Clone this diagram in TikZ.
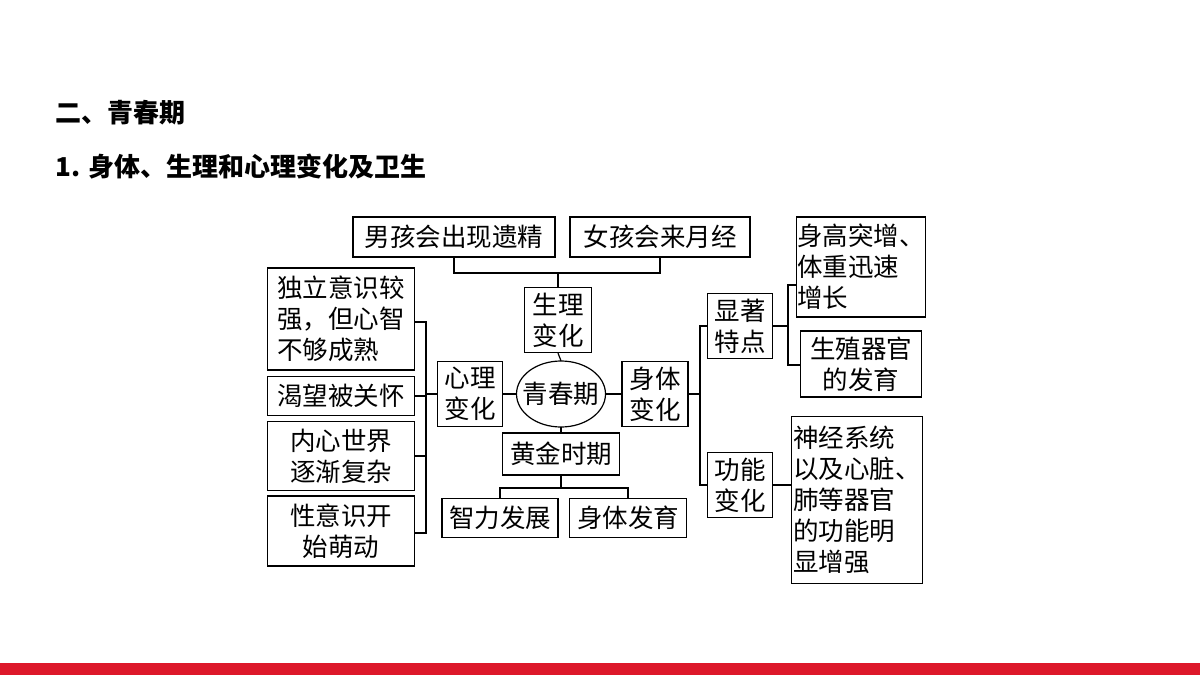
\documentclass[tikz,border=0pt]{standalone}
\usepackage{fontspec}
\setmainfont{Noto Sans CJK SC}
\usetikzlibrary{positioning}
\definecolor{barred}{RGB}{221,24,42}
\tikzset{
  box/.style={draw, line width=1.2pt, inner sep=1.5pt, align=center,
    font=\fontsize{25.5}{31}\selectfont},
  link/.style={line width=1.2pt}
}
\begin{document}
\begin{tikzpicture}[x=1pt,y=-1pt]
    \useasboundingbox (0,0) rectangle (1200,675);
    \fill [barred] (0,663) rectangle (1200,675);
    \node [anchor=base west, font=\fontsize{26}{30}\selectfont\bfseries] (title) at (52,122) {二、青春期};
    \node [anchor=base west, font=\fontsize{26}{30}\selectfont\bfseries] (sub) at (52,176) {1. 身体、生理和心理变化及卫生};
    % centre
    \node [minimum width=89, minimum height=66, inner sep=0pt,
      font=\fontsize{25.5}{31}\selectfont] (qcq) at (561,394) {青春期};
    \draw [link] (qcq.center) ellipse [x radius=44.5, y radius=33];
    \node [box, minimum width=67, minimum height=65] (sl) at (558,320) {生理\\变化};
    \node [box, minimum width=65, minimum height=65] (xl) at (470,394) {心理\\变化};
    \node [box, minimum width=66, minimum height=65] (st) at (655,394) {身体\\变化};
    \node [box, minimum width=117, minimum height=42] (hj) at (561,454) {黄金时期};
    % top
    \node [box, minimum width=202, minimum height=40] (nan) at (454,237) {男孩会出现遗精};
    \node [box, minimum width=180, minimum height=40] (nv) at (660,237) {女孩会来月经};
    % bottom
    \node [box, minimum width=116, minimum height=39] (zl) at (500,518) {智力发展};
    \node [box, minimum width=117, minimum height=39] (stfy) at (628,518) {身体发育};
    % left
    \node [box, minimum width=147, minimum height=102, align=left] (dl) at (341,319) {独立意识较\\强，但心智\\不够成熟};
    \node [box, minimum width=147, minimum height=39] (kw) at (341,396) {渴望被关怀};
    \node [box, minimum width=147, minimum height=69] (nx) at (341,456) {内心世界\\逐渐复杂};
    \node [box, minimum width=147, minimum height=70] (xys) at (341,531) {性意识开\\始萌动};
    % right
    \node [box, minimum width=65, minimum height=65] (xz) at (740,326) {显著\\特点};
    \node [box, minimum width=65, minimum height=65] (gn) at (740,485) {功能\\变化};
    \node [box, inner sep=0.5pt, minimum width=121, minimum height=100, align=left] (sg) at (861,267) {身高突增、\\体重迅速\\增长};
    \node [box, minimum width=121, minimum height=66] (szq) at (861,364) {生殖器官\\的发育};
    \node [box, minimum width=129, minimum height=167, align=left] (sj) at (857,500) {神经系统\\以及心脏、\\肺等器官\\的功能明\\显增强};
    % connectors
    \draw [link] (sl.south) -- (qcq.north);
    \draw [link] (hj.north) -- (qcq.south);
    \draw [link] (xl.east) -- (qcq.west);
    \draw [link] (st.west) -- (qcq.east);
    \draw [link] (sl.north) -- (558,273);
    \draw [link] (nan.south) |- (558,273) -| (nv.south);
    \draw [link] (hj.south) -- (561,488);
    \draw [link] (zl.north) |- (561,488) -| (stfy.north);
    \draw [link] (xl.west) -- (426,394);
    \draw [link] (dl.east |- 0,322) -| (426,533) -- (xys.east |- 0,533);
    \draw [link] (kw.east) -- (426,396);
    \draw [link] (nx.east) -- (426,456);
    \draw [link] (st.east) -- (700,394);
    \draw [link] (xz.west) -| (700,394) |- (gn.west);
    \draw [link] (xz.east) -- (788,326);
    \draw [link] (sg.west |- 0,285) -| (788,365) -- (szq.west |- 0,365);
    \draw [link] (gn.east) -- (sj.west |- gn.east);
\end{tikzpicture}
\end{document}
